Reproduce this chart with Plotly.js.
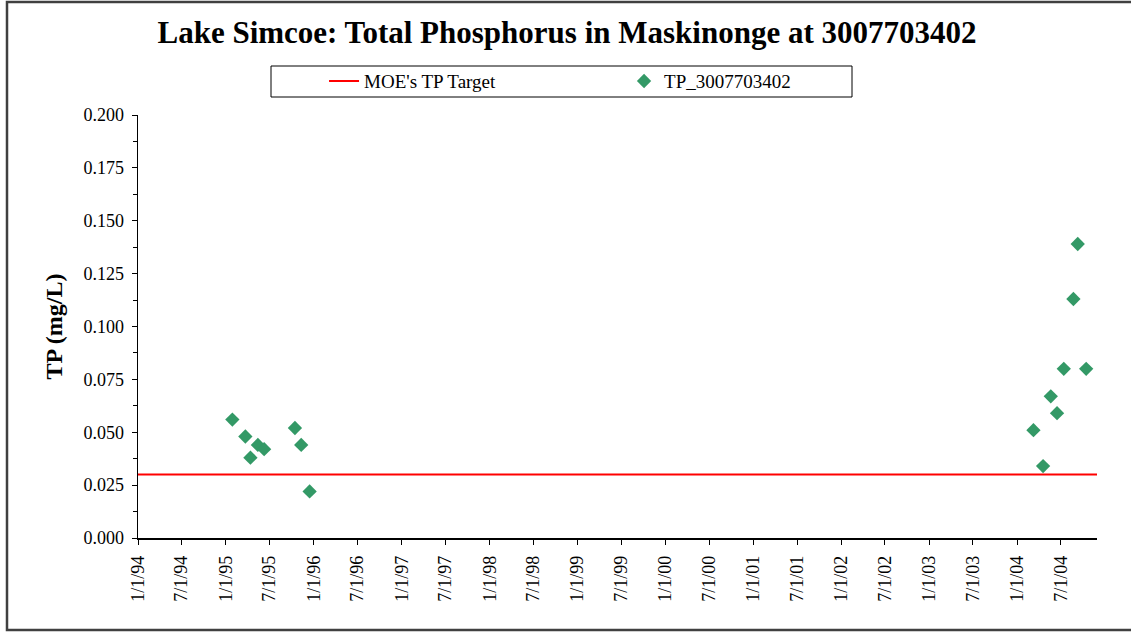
<!DOCTYPE html>
<html>
<head>
<meta charset="utf-8">
<script src="https://cdn.plot.ly/plotly-3.0.1.min.js"></script>
<style>
  html, body { margin: 0; padding: 0; background: #fff; }
  #chart { width: 1131px; height: 632px; }
</style>
</head>
<body>
<div id="chart"></div>
<script>
// sampling dates and TP values (mg/L)
const sampleDates = [
  '1995-01-28', '1995-03-23', '1995-04-13', '1995-05-14', '1995-06-09',
  '1995-10-15', '1995-11-10', '1995-12-15',
  '2004-03-09', '2004-04-18', '2004-05-20', '2004-06-15',
  '2004-07-13', '2004-08-22', '2004-09-09', '2004-10-14'
];
const sampleTP = [
  0.056, 0.048, 0.038, 0.044, 0.042,
  0.052, 0.044, 0.022,
  0.051, 0.034, 0.067, 0.059,
  0.080, 0.113, 0.139, 0.080
];

// MOE target line
const targetDates = ['1994-01-01', '2004-11-28'];
const targetTP = [0.03, 0.03];

const serif = 'Liberation Serif, Times New Roman, serif';

const data = [
  {
    x: targetDates,
    y: targetTP,
    mode: 'lines',
    name: "MOE's TP Target",
    line: { color: '#ff0000', width: 2 }
  },
  {
    x: sampleDates,
    y: sampleTP,
    mode: 'markers',
    name: 'TP_3007703402',
    marker: { symbol: 'diamond', size: 11, color: '#339966' }
  }
];

const layout = {
  width: 1131,
  height: 632,
  margin: { l: 138, r: 34, t: 115, b: 94 },
  paper_bgcolor: '#ffffff',
  plot_bgcolor: '#ffffff',
  font: { family: serif, color: '#000', size: 17 },
  title: {
    text: '<b>Lake Simcoe: Total Phosphorus in Maskinonge at 3007703402</b>',
    font: { family: serif, size: 31, color: '#000' },
    x: 567 / 1131, xref: 'container', xanchor: 'center',
    y: 1 - 32 / 632, yref: 'container', yanchor: 'middle'
  },
  showlegend: true,
  legend: {
    orientation: 'h',
    x: 0.194, xanchor: 'left',
    y: 1.08, yanchor: 'middle',
    entrywidth: 255,
    bgcolor: 'rgba(0,0,0,0)',
    font: { family: serif, size: 19, color: '#000' }
  },
  xaxis: {
    type: 'date',
    range: ['1994-01-01', '2004-11-28'],
    tick0: '1994-01-01',
    dtick: 'M6',
    tickformat: '%-m/%-d/%y',
    tickangle: -90,
    ticks: 'outside',
    ticklen: 5,
    tickcolor: '#000',
    ticklabelstandoff: 4,
    tickfont: { family: serif, size: 18, color: '#000' },
    showline: true,
    linecolor: '#000',
    linewidth: 1.5,
    showgrid: false,
    zeroline: false
  },
  yaxis: {
    range: [0, 0.2],
    dtick: 0.025,
    tickformat: '.3f',
    ticks: 'outside',
    ticklen: 5,
    tickcolor: '#000',
    ticklabelstandoff: 4,
    minor: { dtick: 0.0125, ticks: 'outside', ticklen: 4, tickcolor: '#000' },
    tickfont: { family: serif, size: 18, color: '#000' },
    showline: true,
    linecolor: '#000',
    linewidth: 1.5,
    showgrid: false,
    zeroline: false,
    title: {
      text: '<b>TP (mg/L)</b>',
      font: { family: serif, size: 24, color: '#000' },
      standoff: 14
    }
  },
  shapes: [
    // legend frame
    { type: 'rect', xref: 'paper', yref: 'paper',
      x0: (271 - 138) / 959, x1: (852 - 138) / 959,
      y0: (538 - 97) / 423, y1: (538 - 66) / 423,
      line: { color: '#000', width: 1 } },
    // outer chart frame (right edge falls outside the picture)
    { type: 'rect', xref: 'paper', yref: 'paper',
      x0: (7 - 138) / 959, x1: (1160 - 138) / 959,
      y0: (538 - 630) / 423, y1: (538 - 2) / 423,
      line: { color: '#404040', width: 2.5 } }
  ]
};

Plotly.newPlot('chart', data, layout, { displayModeBar: false, staticPlot: true });
</script>
</body>
</html>
